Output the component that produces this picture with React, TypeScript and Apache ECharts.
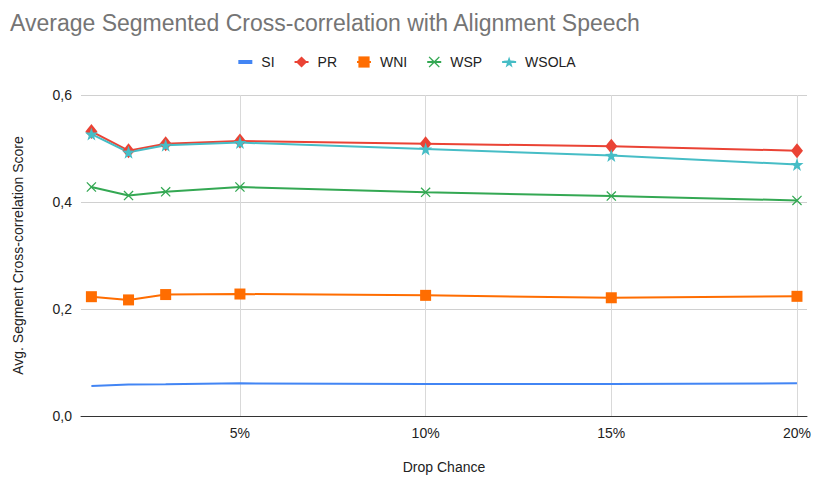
import React, { useEffect, useRef } from "react";
import * as echarts from "echarts";

const dropChance = [1, 2, 3, 5, 10, 15, 20];
const xTicks = [5, 10, 15, 20];
const siValues = [0.056, 0.059, 0.0595, 0.061, 0.0597, 0.0597, 0.061];
const prValues = [0.532, 0.496, 0.509, 0.514, 0.509, 0.504, 0.496];
const wniValues = [0.223, 0.217, 0.227, 0.228, 0.2255, 0.221, 0.2237];
const wspValues = [0.428, 0.412, 0.419, 0.428, 0.418, 0.411, 0.403];
const wsolaValues = [0.527, 0.493, 0.506, 0.511, 0.499, 0.487, 0.47];

const STAR =
  "path://M0,-10 L2.35,-3.24 L9.51,-3.09 L3.8,1.24 L5.88,8.09 L0,4 L-5.88,8.09 L-3.8,1.24 L-9.51,-3.09 L-2.35,-3.24 Z";
const CROSS =
  "path://M-5,-6 L0,-1.2 L5,-6 L6,-5 L1.2,0 L6,5 L5,6 L0,1.2 L-5,6 L-6,5 L-1.2,0 L-6,-5 Z";
const LINE_ICON = "path://M0,0 L14,0 L14,4 L0,4 Z";

const pairs = (vals: number[]) => dropChance.map((x, i) => [x, vals[i]]);

export default function App() {
  const ref = useRef<HTMLDivElement>(null);
  useEffect(() => {
    if (!ref.current) return;
    const chart = echarts.init(ref.current, undefined, { renderer: "svg" });
    const font = "Arial, 'Liberation Sans', sans-serif";
    chart.setOption({
      animation: false,
      textStyle: { fontFamily: font },
      title: {
        text: "Average Segmented Cross-correlation with Alignment Speech",
        left: 5,
        top: 6,
        textStyle: { fontSize: 23, fontWeight: "normal", color: "#757575", fontFamily: font },
      },
      legend: {
        top: 50,
        left: "center",
        itemWidth: 14,
        itemHeight: 14,
        itemGap: 19,
        textStyle: { fontSize: 14, color: "#222", fontFamily: font, padding: [0, 0, 0, 4] },
        data: [
          { name: "SI", icon: LINE_ICON },
          { name: "PR" },
          { name: "WNI" },
          { name: "WSP" },
          { name: "WSOLA" },
        ],
      },
      grid: { left: 81, right: 7, top: 95, bottom: 62, containLabel: false },
      xAxis: {
        type: "value",
        min: 0.72,
        max: 20.27,
        name: "Drop Chance",
        nameLocation: "middle",
        nameGap: 44,
        nameTextStyle: { fontSize: 14, color: "#222" },
        axisLine: { show: true, lineStyle: { color: "#333", width: 1 } },
        axisTick: { show: false, customValues: xTicks },
        axisLabel: {
          customValues: xTicks,
          formatter: (v: number) => v + "%",
          fontSize: 14,
          color: "#222",
          margin: 10,
        },
        splitLine: { show: true, lineStyle: { color: "#d9d9d9", width: 1 } },
      },
      yAxis: {
        type: "value",
        min: 0,
        max: 0.6,
        interval: 0.2,
        name: "Avg. Segment Cross-correlation Score",
        nameLocation: "middle",
        nameGap: 56,
        nameTextStyle: { fontSize: 14, color: "#222" },
        axisLine: { show: false },
        axisTick: { show: false },
        axisLabel: {
          formatter: (v: number) => v.toFixed(1).replace(".", ","),
          fontSize: 14,
          color: "#222",
          margin: 9,
        },
        splitLine: { show: true, lineStyle: { color: "#d0d0d0", width: 1 } },
      },
      series: [
        {
          name: "SI",
          type: "line",
          data: pairs(siValues),
          showSymbol: false,
          symbol: "none",
          lineStyle: { width: 2, color: "#4285F4" },
          itemStyle: { color: "#4285F4" },
        },
        {
          name: "PR",
          type: "line",
          data: pairs(prValues),
          symbol: "diamond",
          symbolSize: [12, 15],
          lineStyle: { width: 2, color: "#EA4335" },
          itemStyle: { color: "#EA4335" },
        },
        {
          name: "WNI",
          type: "line",
          data: pairs(wniValues),
          symbol: "rect",
          symbolSize: 11,
          lineStyle: { width: 2, color: "#FF6D01" },
          itemStyle: { color: "#FF6D01" },
        },
        {
          name: "WSP",
          type: "line",
          data: pairs(wspValues),
          symbol: CROSS,
          symbolSize: 10,
          lineStyle: { width: 2, color: "#34A853" },
          itemStyle: { color: "#34A853" },
        },
        {
          name: "WSOLA",
          type: "line",
          data: pairs(wsolaValues),
          symbol: STAR,
          symbolSize: 13,
          lineStyle: { width: 2, color: "#46BDC6" },
          itemStyle: { color: "#46BDC6" },
        },
      ],
    });
    return () => chart.dispose();
  }, []);
  return <div ref={ref} style={{ width: 814, height: 479, position: "absolute", left: 0, top: 0 }} />;
}
